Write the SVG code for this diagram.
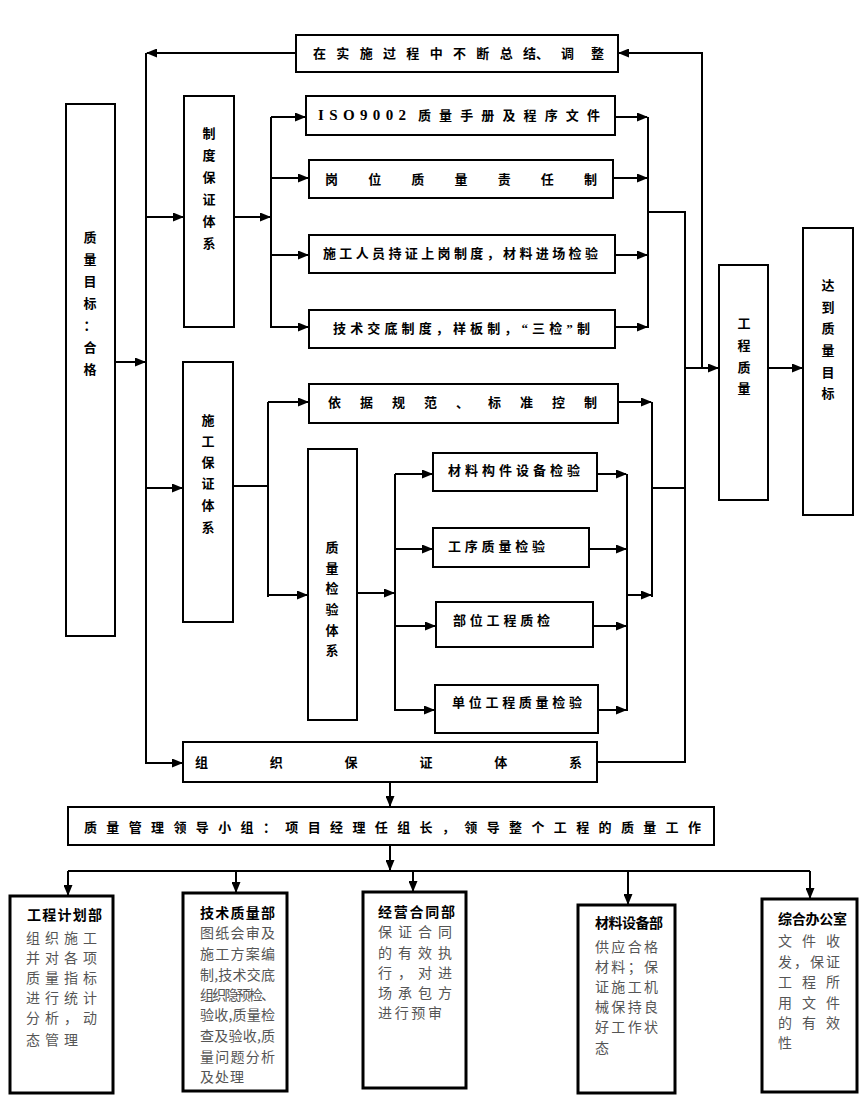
<svg xmlns="http://www.w3.org/2000/svg" width="865" height="1113" viewBox="0 0 865 1113">
<style>
.box{fill:#fff;stroke:#000;stroke-width:2}
.bb{fill:#fff;stroke:#000;stroke-width:3}
.ln{fill:none;stroke:#000;stroke-width:2}
.t{font-family:"Liberation Serif","Noto Sans CJK SC",serif;font-size:13px;font-weight:bold;fill:#000}
.v{font-family:"Noto Sans CJK SC",sans-serif;font-size:13px;font-weight:bold;fill:#000;text-anchor:middle}
.h{font-family:"Noto Sans CJK SC",sans-serif;font-size:14px;font-weight:bold;fill:#000}
.b{font-family:"Noto Sans CJK SC",sans-serif;font-size:14px;fill:#555}
</style>
<defs>
<marker id="a" markerUnits="userSpaceOnUse" markerWidth="11" markerHeight="9" refX="10" refY="4.5" orient="auto">
<path d="M0,0 L11,4.5 L0,9 z" fill="#000"/>
</marker>
</defs>

<g id="connectors" class="ln">
<path d="M296,53 H147" marker-end="url(#a)"/>
<path d="M146,53 V763 H182" marker-end="url(#a)"/>
<path d="M702,368 V53 H619" marker-end="url(#a)"/>
<path d="M115,362 H145" marker-end="url(#a)"/>
<path d="M146,217 H183" marker-end="url(#a)"/>
<path d="M146,488 H182" marker-end="url(#a)"/>
<path d="M234,217 H270" marker-end="url(#a)"/>
<path d="M271,117 V328"/>
<path d="M271,117 H305" marker-end="url(#a)"/>
<path d="M271,178 H308" marker-end="url(#a)"/>
<path d="M271,255 H308" marker-end="url(#a)"/>
<path d="M271,327 H308" marker-end="url(#a)"/>
<path d="M615,117 H647" marker-end="url(#a)"/>
<path d="M613,178 H647" marker-end="url(#a)"/>
<path d="M615,255 H647" marker-end="url(#a)"/>
<path d="M615,327 H647" marker-end="url(#a)"/>
<path d="M648,117 V328"/>
<path d="M648,212 H685 V762 H597"/>
<path d="M685,368 H718" marker-end="url(#a)"/>
<path d="M768,368 H802" marker-end="url(#a)"/>
<path d="M233,486 H267"/>
<path d="M268,402 V597"/>
<path d="M268,402 H308" marker-end="url(#a)"/>
<path d="M268,595 H307" marker-end="url(#a)"/>
<path d="M618,402 H651" marker-end="url(#a)"/>
<path d="M652,402 V597"/>
<path d="M652,488 H685"/>
<path d="M357,593 H394" marker-end="url(#a)"/>
<path d="M395,474 V711"/>
<path d="M395,474 H432" marker-end="url(#a)"/>
<path d="M395,549 H432" marker-end="url(#a)"/>
<path d="M395,626 H435" marker-end="url(#a)"/>
<path d="M395,710 H434" marker-end="url(#a)"/>
<path d="M597,474 H626" marker-end="url(#a)"/>
<path d="M589,549 H626" marker-end="url(#a)"/>
<path d="M593,626 H626" marker-end="url(#a)"/>
<path d="M598,710 H626" marker-end="url(#a)"/>
<path d="M627,474 V711"/>
<path d="M627,595 H651" marker-end="url(#a)"/>
<path d="M390,782 V806" marker-end="url(#a)"/>
<path d="M390,845 V870" marker-end="url(#a)"/>
<path d="M68,871 H810"/>
<path d="M68,871 V895" marker-end="url(#a)"/>
<path d="M236,871 V892" marker-end="url(#a)"/>
<path d="M413,871 V891" marker-end="url(#a)"/>
<path d="M628,871 V904" marker-end="url(#a)"/>
<path d="M810,871 V898" marker-end="url(#a)"/>
</g>

<g id="n_top"><rect class="box" x="296" y="35" width="322" height="37"/>
<text class="t" y="58"><tspan x="313" textLength="223" lengthAdjust="spacing">在实施过程中不断总结</tspan><tspan x="536">、</tspan><tspan x="561" textLength="43" lengthAdjust="spacing">调整</tspan></text></g>

<g id="n_goal"><rect class="box" x="66" y="104" width="49" height="532"/>
<text class="v"><tspan x="90" y="242">质</tspan><tspan x="90" y="264">量</tspan><tspan x="90" y="286">目</tspan><tspan x="90" y="308">标</tspan><tspan x="90" y="330">：</tspan><tspan x="90" y="352">合</tspan><tspan x="90" y="374">格</tspan></text></g>

<g id="n_zhidu"><rect class="box" x="184" y="96" width="50" height="231"/>
<text class="v"><tspan x="209" y="138">制</tspan><tspan x="209" y="160">度</tspan><tspan x="209" y="182">保</tspan><tspan x="209" y="204">证</tspan><tspan x="209" y="226">体</tspan><tspan x="209" y="248">系</tspan></text></g>

<g id="n_shigong"><rect class="box" x="183" y="362" width="50" height="260"/>
<text class="v"><tspan x="208" y="425">施</tspan><tspan x="208" y="446">工</tspan><tspan x="208" y="467">保</tspan><tspan x="208" y="488">证</tspan><tspan x="208" y="510">体</tspan><tspan x="208" y="532">系</tspan></text></g>

<g id="n_iso"><rect class="box" x="306" y="96" width="309" height="39"/>
<text class="t" y="120"><tspan x="318" font-size="15" textLength="88" lengthAdjust="spacing">ISO9002</tspan><tspan x="418" textLength="182" lengthAdjust="spacing">质量手册及程序文件</tspan></text></g>

<g id="n_gangwei"><rect class="box" x="309" y="160" width="304" height="38"/>
<text class="t" x="325" y="184" textLength="272" lengthAdjust="spacing">岗位质量责任制</text></g>

<g id="n_renyuan"><rect class="box" x="309" y="235" width="306" height="38"/>
<text class="t" x="323" y="258" textLength="275" lengthAdjust="spacing">施工人员持证上岗制度，材料进场检验</text></g>

<g id="n_jishu"><rect class="box" x="309" y="310" width="306" height="38"/>
<text class="t" x="333" y="333" textLength="257" lengthAdjust="spacing">技术交底制度，样板制，“三检”制</text></g>

<g id="n_yiju"><rect class="box" x="309" y="384" width="309" height="39"/>
<text class="t" x="328" y="407" textLength="269" lengthAdjust="spacing">依据规范、标准控制</text></g>

<g id="n_jianyan"><rect class="box" x="308" y="449" width="49" height="271"/>
<text class="v"><tspan x="332" y="552">质</tspan><tspan x="332" y="573">量</tspan><tspan x="332" y="593">检</tspan><tspan x="332" y="614">验</tspan><tspan x="332" y="635">体</tspan><tspan x="332" y="655">系</tspan></text></g>

<g id="n_cailiao"><rect class="box" x="433" y="453" width="164" height="38"/>
<text class="t" x="448" y="475" textLength="132" lengthAdjust="spacing">材料构件设备检验</text></g>

<g id="n_gongxu"><rect class="box" x="433" y="528" width="156" height="39"/>
<text class="t" x="448" y="551" textLength="97" lengthAdjust="spacing">工序质量检验</text></g>

<g id="n_buwei"><rect class="box" x="436" y="602" width="157" height="45"/>
<text class="t" x="453" y="625" textLength="97" lengthAdjust="spacing">部位工程质检</text></g>

<g id="n_danwei"><rect class="box" x="435" y="685" width="163" height="48"/>
<text class="t" x="452" y="707" textLength="130" lengthAdjust="spacing">单位工程质量检验</text></g>

<g id="n_gczl"><rect class="box" x="719" y="265" width="49" height="235"/>
<text class="v"><tspan x="744" y="328">工</tspan><tspan x="744" y="350">程</tspan><tspan x="744" y="372">质</tspan><tspan x="744" y="393">量</tspan></text></g>

<g id="n_dadao"><rect class="box" x="803" y="228" width="50" height="287"/>
<text class="v"><tspan x="828" y="290">达</tspan><tspan x="828" y="312">到</tspan><tspan x="828" y="333">质</tspan><tspan x="828" y="355">量</tspan><tspan x="828" y="377">目</tspan><tspan x="828" y="398">标</tspan></text></g>

<g id="n_zuzhi"><rect class="box" x="183" y="742" width="414" height="40"/>
<text class="t" x="195" y="767" textLength="387" lengthAdjust="spacing">组织保证体系</text></g>

<g id="n_lingdao"><rect class="box" x="68" y="807" width="646" height="38"/>
<text class="t" x="84" y="832" textLength="617" lengthAdjust="spacing">质量管理领导小组：项目经理任组长，领导整个工程的质量工作</text></g>

<g id="n_jihua"><rect class="bb" x="10" y="896" width="103" height="197"/>
<text class="h" x="27" y="920" textLength="75" lengthAdjust="spacing">工程计划部</text>
<text class="b" x="26" y="943" textLength="71" lengthAdjust="spacing">组织施工</text>
<text class="b" x="26" y="963" textLength="71" lengthAdjust="spacing">并对各项</text>
<text class="b" x="26" y="983" textLength="71" lengthAdjust="spacing">质量指标</text>
<text class="b" x="26" y="1003" textLength="71" lengthAdjust="spacing">进行统计</text>
<text class="b" x="26" y="1023" textLength="71" lengthAdjust="spacing">分析，动</text>
<text class="b" x="26" y="1045" textLength="52" lengthAdjust="spacing">态管理</text></g>

<g id="n_jishubu"><rect class="bb" x="183" y="893" width="104" height="198"/>
<text class="h" x="200" y="918" textLength="75" lengthAdjust="spacing">技术质量部</text>
<text class="b" x="200" y="938" textLength="75" lengthAdjust="spacing">图纸会审及</text>
<text class="b" x="200" y="959" textLength="75" lengthAdjust="spacing">施工方案编</text>
<text class="b" x="200" y="980" textLength="75" lengthAdjust="spacing">制,技术交底</text>
<text class="b" x="200" y="1000" textLength="75" lengthAdjust="spacing">组织隐预检、</text>
<text class="b" x="200" y="1020" textLength="75" lengthAdjust="spacing">验收,质量检</text>
<text class="b" x="200" y="1041" textLength="75" lengthAdjust="spacing">查及验收,质</text>
<text class="b" x="200" y="1062" textLength="75" lengthAdjust="spacing">量问题分析</text>
<text class="b" x="200" y="1082" textLength="44" lengthAdjust="spacing">及处理</text></g>

<g id="n_jingying"><rect class="bb" x="363" y="892" width="103" height="196"/>
<text class="h" x="378" y="917" textLength="77" lengthAdjust="spacing">经营合同部</text>
<text class="b" x="378" y="937" textLength="74" lengthAdjust="spacing">保证合同</text>
<text class="b" x="378" y="958" textLength="74" lengthAdjust="spacing">的有效执</text>
<text class="b" x="378" y="978" textLength="74" lengthAdjust="spacing">行，对进</text>
<text class="b" x="378" y="998" textLength="74" lengthAdjust="spacing">场承包方</text>
<text class="b" x="378" y="1018" textLength="64" lengthAdjust="spacing">进行预审</text></g>

<g id="n_shebei"><rect class="bb" x="578" y="905" width="97" height="188"/>
<text class="h" x="595" y="928" textLength="68" lengthAdjust="spacing">材料设备部</text>
<text class="b" x="595" y="952" textLength="63" lengthAdjust="spacing">供应合格</text>
<text class="b" x="595" y="972" textLength="63" lengthAdjust="spacing">材料；保</text>
<text class="b" x="595" y="992" textLength="63" lengthAdjust="spacing">证施工机</text>
<text class="b" x="595" y="1012" textLength="63" lengthAdjust="spacing">械保持良</text>
<text class="b" x="595" y="1032" textLength="63" lengthAdjust="spacing">好工作状</text>
<text class="b" x="595" y="1053">态</text></g>

<g id="n_bangong"><rect class="bb" x="762" y="899" width="95" height="193"/>
<text class="h" x="778" y="924" textLength="69" lengthAdjust="spacing">综合办公室</text>
<text class="b" x="778" y="946" textLength="62" lengthAdjust="spacing">文件收</text>
<text class="b" x="778" y="967" textLength="62" lengthAdjust="spacing">发，保证</text>
<text class="b" x="778" y="987" textLength="62" lengthAdjust="spacing">工程所</text>
<text class="b" x="778" y="1008" textLength="62" lengthAdjust="spacing">用文件</text>
<text class="b" x="778" y="1028" textLength="62" lengthAdjust="spacing">的有效</text>
<text class="b" x="778" y="1048">性</text></g>
</svg>
